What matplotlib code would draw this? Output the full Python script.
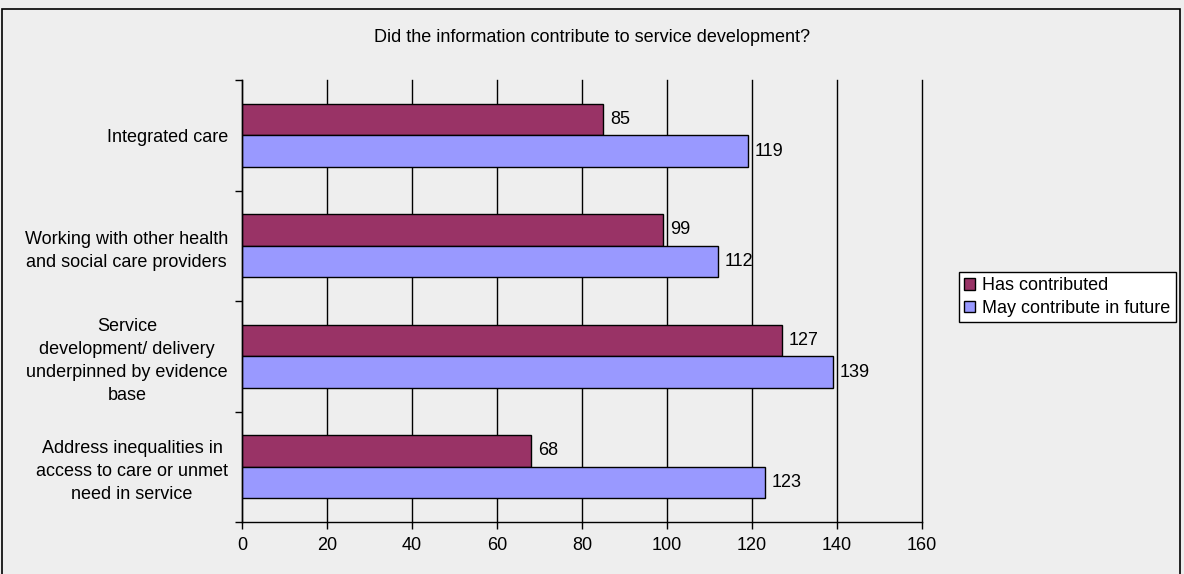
import matplotlib
matplotlib.use('Agg')
import matplotlib.pyplot as plt
from matplotlib.patches import Rectangle

plt.rcParams['font.family'] = ['Liberation Sans', 'DejaVu Sans']
plt.rcParams['font.size'] = 13

TITLE = 'Did the information contribute to service development?'
categories = ['Integrated care',
              'Working with other health\nand social care providers',
              'Service\ndevelopment/ delivery\nunderpinned by evidence\nbase',
              'Address inequalities in\naccess to care or unmet\nneed in service']
has_contributed = [85, 99, 127, 68]
may_contribute = [119, 112, 139, 123]
series_names = ['Has contributed', 'May contribute in future']
x_ticks = [0, 20, 40, 60, 80, 100, 120, 140, 160]

BG = '#eeeeee'
BAR_H = 0.286

fig = plt.figure(figsize=(11.84, 5.74), dpi=100, facecolor=BG)
ax = fig.add_axes([0.2044, 0.0906, 0.5743, 0.7700], facecolor=BG)

pos = list(range(len(categories)))
b1 = ax.barh([p - BAR_H / 2 for p in pos], has_contributed, height=BAR_H,
             color='#993366', edgecolor='black', linewidth=1, label=series_names[0])
b2 = ax.barh([p + BAR_H / 2 for p in pos], may_contribute, height=BAR_H,
             color='#9999ff', edgecolor='black', linewidth=1, label=series_names[1])
ax.bar_label(b1, padding=5, fontsize=13)
ax.bar_label(b2, padding=5, fontsize=13)

ax.set_xlim(0, 160)
ax.set_ylim(len(categories) - 0.5, -0.5)
ax.set_xticks(x_ticks)
ax.set_yticks(pos)
ax.set_yticklabels(categories, linespacing=1.45)
for lbl in ax.get_yticklabels():
    lbl.set_multialignment('center')
ax.set_yticks([p - 0.5 for p in range(len(categories) + 1)], minor=True)

# vertical gridlines sit behind the bars
ax.set_axisbelow(True)
ax.grid(axis='x', color='black', linewidth=1)
for gl in ax.get_xgridlines():
    gl.set_clip_on(False)
ax.tick_params(axis='x', length=5, width=1, pad=6)
ax.tick_params(axis='y', which='major', length=0, pad=10)
ax.tick_params(axis='y', which='minor', length=5, width=1)
for side in ['top', 'right']:
    ax.spines[side].set_visible(False)
for side in ['left', 'bottom']:
    ax.spines[side].set_color('black')
    ax.spines[side].set_linewidth(1)

fig.text(0.5, 1 - 37 / 574, TITLE, ha='center', va='center', fontsize=13)

leg = fig.legend(loc='upper left', bbox_to_anchor=(959 / 1184, 1 - 272 / 574),
                 frameon=True, fancybox=False, edgecolor='black', facecolor='white',
                 framealpha=1, handlelength=0.6, handleheight=0.6, handletextpad=0.4,
                 borderpad=0.3, labelspacing=0.3, fontsize=13, borderaxespad=0)
leg.get_frame().set_linewidth(1)

# outer chart border
fig.patches.append(Rectangle((2 / 1184, -0.02), 1178 / 1184, 1 - 9 / 574 + 0.02,
                             transform=fig.transFigure, fill=False,
                             edgecolor='black', linewidth=1.2))

fig.savefig('out.png', dpi=100, facecolor=BG)
